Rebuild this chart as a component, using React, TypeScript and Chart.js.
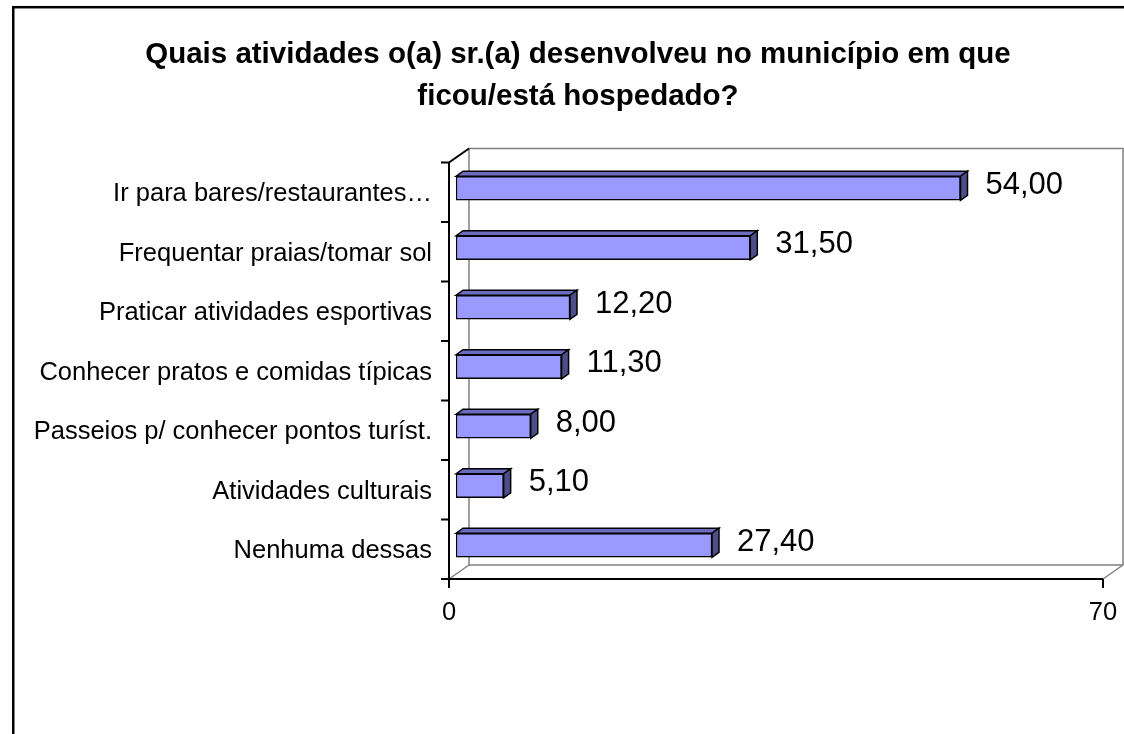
import React, { useEffect, useRef } from "react";
import { Chart, registerables } from "chart.js";

Chart.register(...registerables);

const titleLines = [
  "Quais atividades o(a) sr.(a) desenvolveu no município em que",
  "ficou/está hospedado?",
];
const categories = [
  "Ir para bares/restaurantes…",
  "Frequentar praias/tomar sol",
  "Praticar atividades esportivas",
  "Conhecer pratos e comidas típicas",
  "Passeios p/ conhecer pontos turíst.",
  "Atividades culturais",
  "Nenhuma dessas",
];
const values = [54.0, 31.5, 12.2, 11.3, 8.0, 5.1, 27.4];
const axisMin = 0;
const axisMax = 70;

const FONT = "'Liberation Sans', Arial, sans-serif";
const FRONT = { x: -7, y: 4 };
const BACK = { x: 13, y: -10 };
const BAR_D = { x: 7, y: -5 };

const fmt = (v: number) => v.toFixed(2).replace(".", ",");

const wallsPlugin = {
  id: "walls3d",
  beforeDatasetsDraw(chart: any) {
    const { ctx, chartArea } = chart;
    const { left: L, right: R, top: T, bottom: B } = chartArea;
    const n = categories.length;
    const band = (B - T) / n;
    ctx.save();
    ctx.lineCap = "butt";
    ctx.strokeStyle = "#808080";
    ctx.lineWidth = 1.5;
    ctx.beginPath();
    ctx.rect(L + BACK.x, T + BACK.y, R - L, B - T);
    ctx.moveTo(L + FRONT.x, B + FRONT.y);
    ctx.lineTo(L + BACK.x, B + BACK.y);
    ctx.moveTo(R + FRONT.x, B + FRONT.y);
    ctx.lineTo(R + BACK.x, B + BACK.y);
    ctx.stroke();
    ctx.strokeStyle = "#000";
    ctx.lineWidth = 2;
    ctx.beginPath();
    ctx.moveTo(L + BACK.x, T + BACK.y);
    ctx.lineTo(L + FRONT.x, T + FRONT.y);
    ctx.lineTo(L + FRONT.x, B + FRONT.y);
    ctx.lineTo(R + FRONT.x, B + FRONT.y);
    for (let k = 0; k <= n; k++) {
      const y = T + FRONT.y + k * band;
      ctx.moveTo(L + FRONT.x - 8, y);
      ctx.lineTo(L + FRONT.x, y);
    }
    const xs = chart.scales.x;
    [axisMin, axisMax].forEach((v) => {
      const x = xs.getPixelForValue(v) + FRONT.x;
      ctx.moveTo(x, B + FRONT.y);
      ctx.lineTo(x, B + FRONT.y + 9);
    });
    ctx.stroke();
    ctx.restore();
  },
  afterDatasetsDraw(chart: any) {
    const { ctx } = chart;
    const meta = chart.getDatasetMeta(0);
    ctx.save();
    ctx.lineWidth = 1.5;
    ctx.strokeStyle = "#000";
    ctx.lineJoin = "miter";
    meta.data.forEach((bar: any, i: number) => {
      const p = bar.getProps(["x", "y", "base", "height"], true);
      const top = p.y - p.height / 2;
      const bot = p.y + p.height / 2;
      ctx.fillStyle = "#6b6bc0";
      ctx.beginPath();
      ctx.moveTo(p.base, top);
      ctx.lineTo(p.base + BAR_D.x, top + BAR_D.y);
      ctx.lineTo(p.x + BAR_D.x, top + BAR_D.y);
      ctx.lineTo(p.x, top);
      ctx.closePath();
      ctx.fill();
      ctx.stroke();
      ctx.fillStyle = "#4d4d8a";
      ctx.beginPath();
      ctx.moveTo(p.x, top);
      ctx.lineTo(p.x + BAR_D.x, top + BAR_D.y);
      ctx.lineTo(p.x + BAR_D.x, bot + BAR_D.y);
      ctx.lineTo(p.x, bot);
      ctx.closePath();
      ctx.fill();
      ctx.stroke();
      ctx.fillStyle = "#000";
      ctx.font = `31px ${FONT}`;
      ctx.textAlign = "left";
      ctx.textBaseline = "alphabetic";
      ctx.fillText(fmt(values[i]), p.x + 25, p.y + 5.5);
    });
    ctx.restore();
  },
  afterDraw(chart: any) {
    const { ctx } = chart;
    ctx.save();
    // title
    ctx.fillStyle = "#000";
    ctx.font = `bold 29.5px ${FONT}`;
    ctx.textAlign = "center";
    ctx.textBaseline = "alphabetic";
    titleLines.forEach((line, i) => ctx.fillText(line, 578, 63 + i * 42));
    // outer frame
    ctx.strokeStyle = "#000";
    ctx.lineWidth = 2.5;
    ctx.strokeRect(13.25, 7.2, 1400, 1000);
    ctx.restore();
  },
};

export default function App() {
  const ref = useRef<HTMLCanvasElement | null>(null);
  useEffect(() => {
    if (!ref.current) return;
    const chart = new Chart(ref.current, {
      type: "bar",
      data: {
        labels: categories,
        datasets: [
          {
            data: values,
            backgroundColor: "#9999FF",
            borderColor: "#000",
            borderWidth: 1.5,
            borderSkipped: false,
            barThickness: 24,
          },
        ],
      },
      options: {
        indexAxis: "y",
        animation: false,
        responsive: false,
        devicePixelRatio: 1,
        layout: { padding: { left: 20, right: 14, top: 158.5, bottom: 99 } },
        plugins: {
          legend: { display: false },
          tooltip: { enabled: false },
          title: { display: false },
        },
        scales: {
          x: {
            type: "linear",
            min: axisMin,
            max: axisMax,
            grid: { display: false, drawTicks: false },
            border: { display: false },
            ticks: {
              stepSize: axisMax - axisMin,
              color: "#000",
              font: { family: FONT, size: 25.5 },
              padding: 23,
              labelOffset: FRONT.x,
              maxRotation: 0,
            },
            afterFit: (s: any) => {
              s.height = 60;
              s.paddingLeft = 0;
              s.paddingRight = 0;
            },
          },
          y: {
            type: "category",
            grid: { display: false, drawTicks: false },
            border: { display: false },
            ticks: {
              color: "#000",
              font: { family: FONT, size: 25.5 },
              padding: 24,
              labelOffset: 6,
              autoSkip: false,
            },
            afterFit: (s: any) => {
              s.width = 436;
              s.paddingTop = 0;
              s.paddingBottom = 0;
            },
          },
        },
      },
      plugins: [wallsPlugin],
    });
    return () => chart.destroy();
  }, []);
  return (
    <div style={{ position: "absolute", left: 0, top: 0, width: 1124, height: 734, background: "#fff" }}>
      <canvas ref={ref} width={1124} height={734} style={{ display: "block" }} />
    </div>
  );
}
